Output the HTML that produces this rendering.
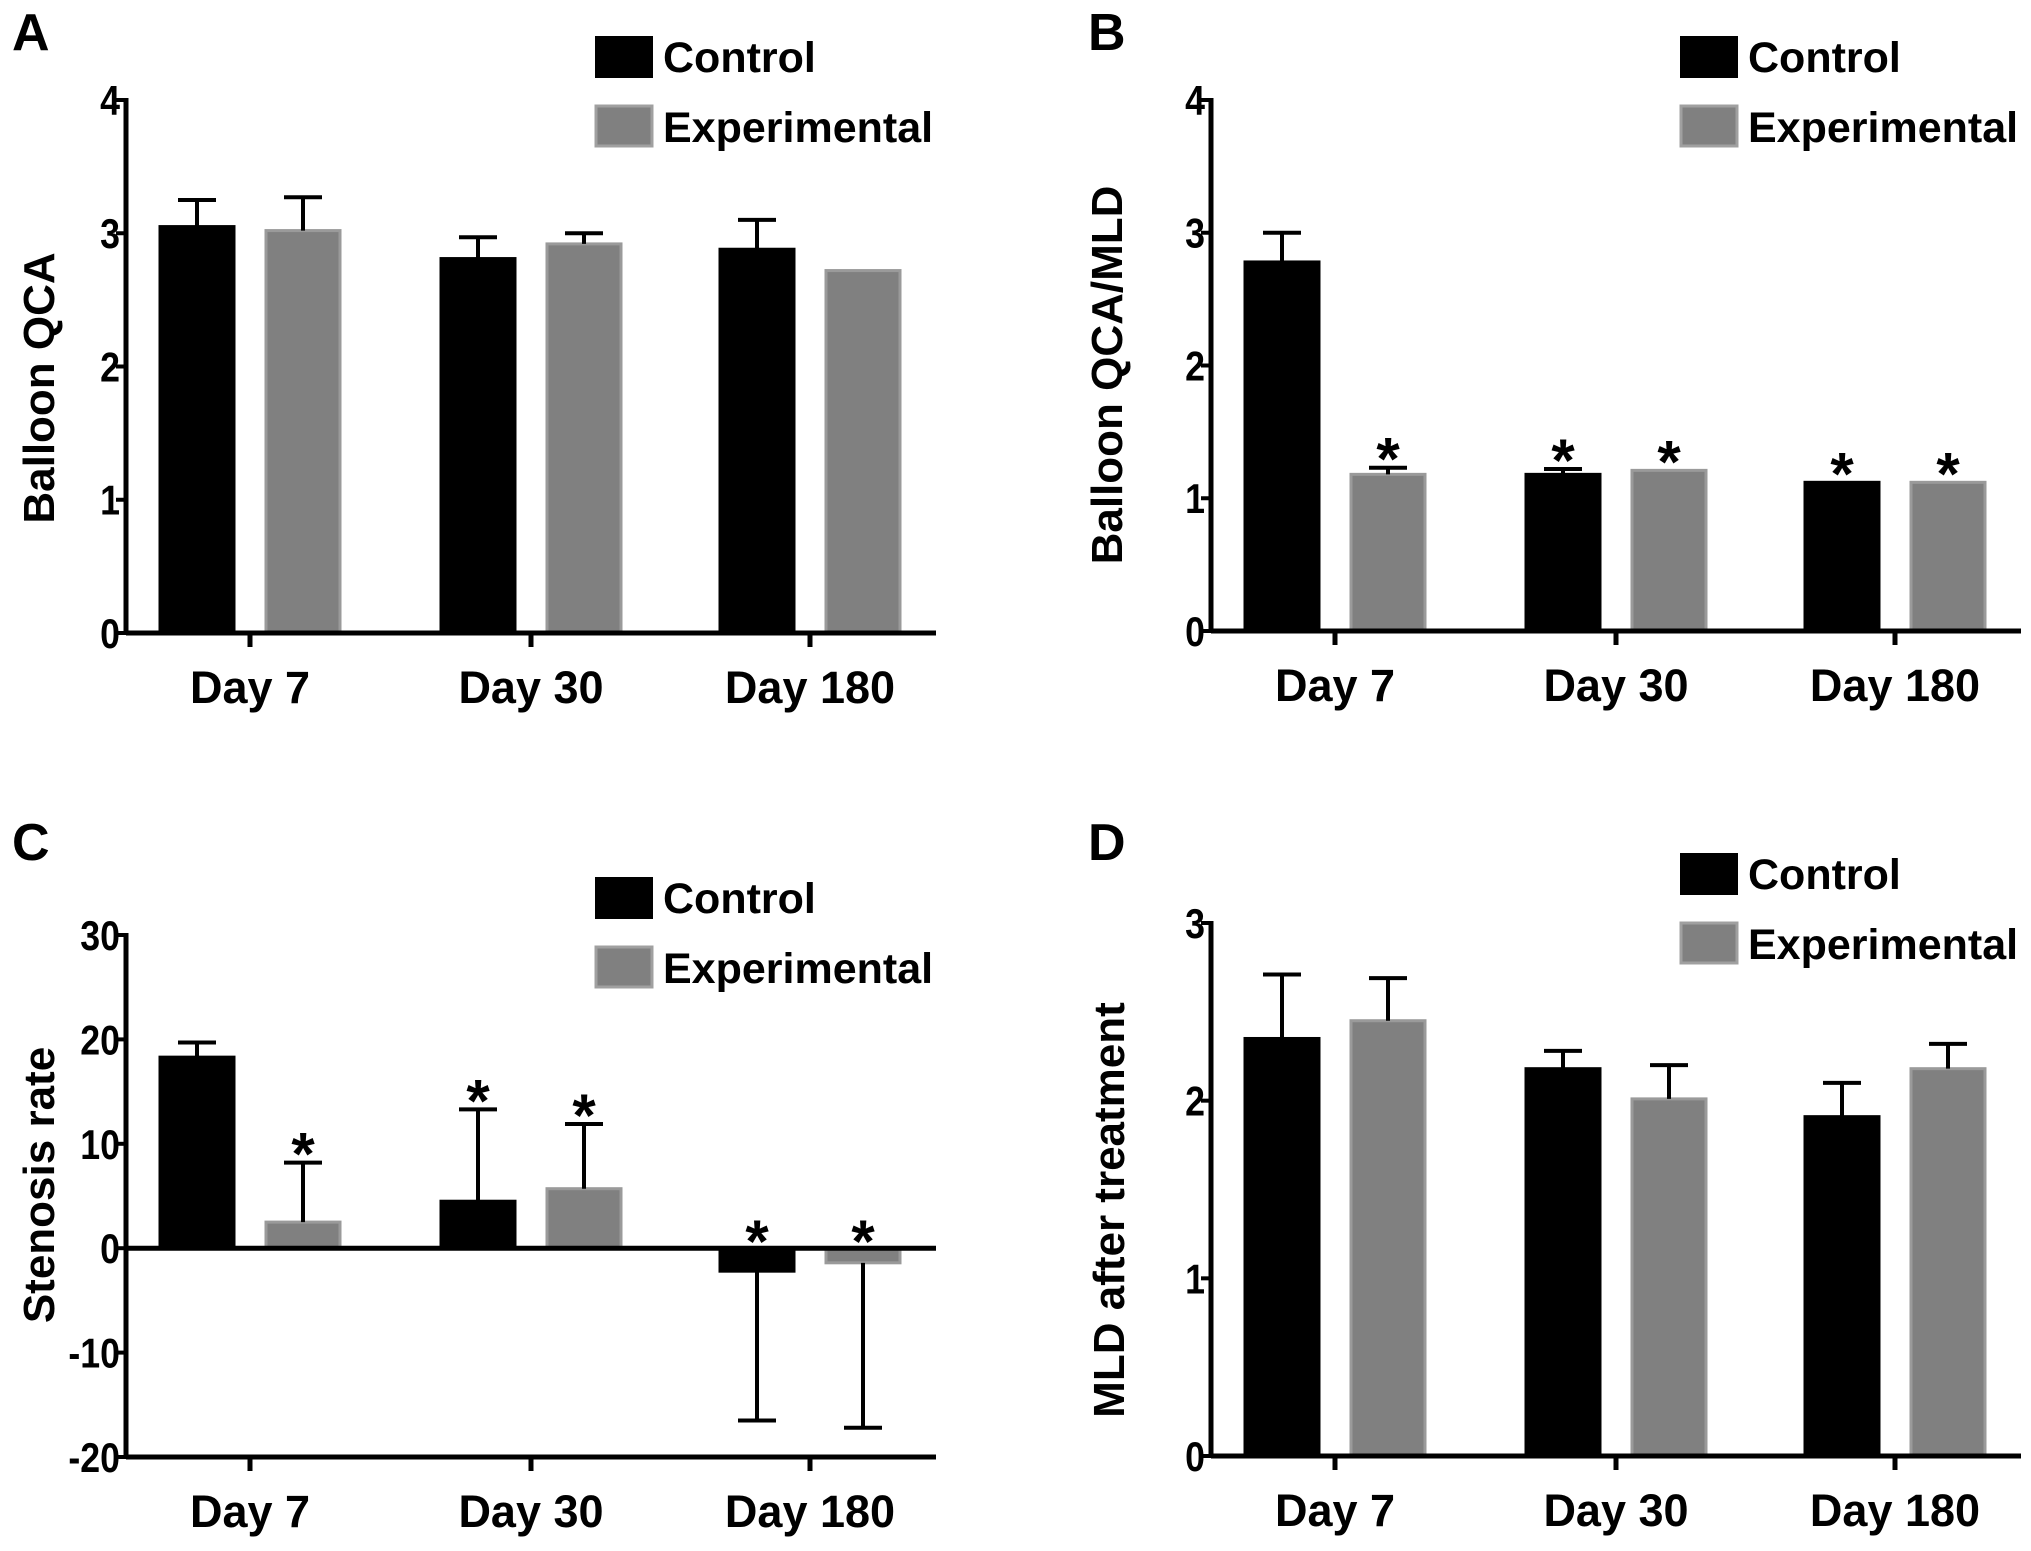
<!DOCTYPE html>
<html><head><meta charset="utf-8"><style>
html,body{margin:0;padding:0;background:#fff;}
svg{display:block;}
text{font-family:"Liberation Sans",Arial,sans-serif;font-weight:bold;fill:#000;}
</style></head><body>
<svg id="fig" width="2031" height="1551" viewBox="0 0 2031 1551"></svg>
<script>
const categories = ["Day 7","Day 30","Day 180"];
const seriesNames = ["Control","Experimental"];
// Panel A
const aControl = [3.05,2.81,2.88];
const aControlErr = [3.25,2.97,3.10];
const aExp = [3.02,2.92,2.72];
const aExpErr = [3.27,3.00,null];
const aTicks = [0,1,2,3,4];
// Panel B
const bControl = [2.78,1.18,1.12];
const bControlErr = [3.00,1.22,null];
const bExp = [1.18,1.21,1.12];
const bExpErr = [1.23,null,null];
const bStarsControl = [false,true,true];
const bStarsExp = [true,true,true];
const bTicks = [0,1,2,3,4];
// Panel C
const cControl = [18.3,4.5,-2.2];
const cControlErr = [19.7,13.3,-16.5];
const cExp = [2.5,5.7,-1.4];
const cExpErr = [8.2,11.9,-17.2];
const cStarsControl = [false,true,true];
const cStarsExp = [true,true,true];
const cTicks = [-20,-10,0,10,20,30];
// Panel D
const dControl = [2.35,2.18,1.91];
const dControlErr = [2.71,2.28,2.10];
const dExp = [2.45,2.01,2.18];
const dExpErr = [2.69,2.20,2.32];
const dTicks = [0,1,2,3];

const NS="http://www.w3.org/2000/svg";
const svg=document.getElementById('fig');
function mk(tag,attrs,parent,txt){const e=document.createElementNS(NS,tag);for(const k in attrs)e.setAttribute(k,attrs[k]);if(txt!==undefined)e.textContent=txt;(parent||svg).appendChild(e);return e;}

function panel(o){
  const g=mk('g',{});
  
  
  const y=v=>o.yBot-(v-o.min)/(o.max-o.min)*(o.yBot-o.yTop);
  const xc=i=>o.ax+[124,405,684][i];
  const L=mk('text',{x:o.lx,y:o.ly,'font-size':52},g,o.id);
  
  
  const series=[[o.c,o.ce,'#000','#000',-53,o.sc],[o.e,o.ee,'#808080','#9a9a9a',53,o.se]];
  series.forEach((s,si)=>{
    s[0].forEach((v,i)=>{
      const cx=xc(i)+s[4];
      const y0=y(0),yv=y(v);
      const r=mk('rect',{x:cx-37,y:Math.min(y0,yv),width:74,height:Math.abs(y0-yv),fill:s[2],stroke:s[3],'stroke-width':3},g);
      
      
      const ev=s[1][i];
      let topY=yv;
      if(ev!==null){
        const ye=y(ev);
        const eb=mk('path',{d:`M${cx} ${yv}L${cx} ${ye}M${cx-19} ${ye}L${cx+19} ${ye}`,stroke:'#000','stroke-width':4,fill:'none'},g);
        
        
        topY=Math.min(yv,ye);
      }
      if(s[5]&&s[5][i]){
        const base=v<0?y(0)+14:topY+12;
        const st=mk('text',{x:cx,y:base,'font-size':60,'text-anchor':'middle'},g,'*');
        
        
      }
    });
  });
  const ax=mk('line',{x1:o.ax,y1:o.yTop-2,x2:o.ax,y2:o.yBot+2,stroke:'#000','stroke-width':5},g);
  
  
  const xl=mk('line',{x1:o.ax,y1:y(0),x2:o.ax+810,y2:y(0),stroke:'#000','stroke-width':5},g);
  
  
  if(o.min<0){
    const bl=mk('line',{x1:o.ax,y1:o.yBot,x2:o.ax+810,y2:o.yBot,stroke:'#000','stroke-width':5},g);
    
    
  }
  o.ticks.forEach(t=>{
    mk('line',{x1:o.ax-10,y1:y(t),x2:o.ax,y2:y(t),stroke:'#000','stroke-width':4},g);
    const tl=mk('text',{x:o.ax-6,y:y(t)+15,'font-size':42,'text-anchor':'end',transform:`translate(${o.ax-6} 0) scale(0.85 1) translate(${-(o.ax-6)} 0)`},g,String(t));
    
    
  });
  categories.forEach((c,i)=>{
    mk('line',{x1:xc(i),y1:o.yBot,x2:xc(i),y2:o.yBot+14,stroke:'#000','stroke-width':5},g);
    const t=mk('text',{x:xc(i),y:o.yBot+70,'font-size':45,'text-anchor':'middle'},g,c);
    
    
  });
  const yt=mk('text',{x:0,y:0,'font-size':44,'text-anchor':'middle',transform:`translate(${o.tx} ${o.ty}) rotate(-90)`},g,o.title);
  
  
  const lg=mk('g',{},g);
  
  
  const r1=mk('rect',{x:o.legX,y:o.legY,width:58,height:42,fill:'#000'},lg);
  
  
  const t1=mk('text',{x:o.legX+68,y:o.legY+36,'font-size':43},lg,'Control');
  
  
  const r2=mk('rect',{x:o.legX+1,y:o.legY+70,width:56,height:40,fill:'#808080',stroke:'#a0a0a0','stroke-width':3},lg);
  
  
  const t2=mk('text',{x:o.legX+68,y:o.legY+106,'font-size':43},lg,'Experimental');
  
  
}

panel({id:'A',lx:12,ly:50,ax:126,yTop:100,yBot:633,min:0,max:4,ticks:aTicks,c:aControl,ce:aControlErr,e:aExp,ee:aExpErr,title:'Balloon QCA',tx:54,ty:388,legX:595,legY:36});
panel({id:'B',lx:1088,ly:50,ax:1211,yTop:100,yBot:631,min:0,max:4,ticks:bTicks,c:bControl,ce:bControlErr,e:bExp,ee:bExpErr,sc:bStarsControl,se:bStarsExp,title:'Balloon QCA/MLD',tx:1122,ty:375,legX:1680,legY:36});
panel({id:'C',lx:12,ly:860,ax:126,yTop:935,yBot:1457,min:-20,max:30,ticks:cTicks,c:cControl,ce:cControlErr,e:cExp,ee:cExpErr,sc:cStarsControl,se:cStarsExp,title:'Stenosis rate',tx:54,ty:1185,legX:595,legY:877});
panel({id:'D',lx:1088,ly:860,ax:1211,yTop:923,yBot:1456,min:0,max:3,ticks:dTicks,c:dControl,ce:dControlErr,e:dExp,ee:dExpErr,title:'MLD after treatment',tx:1124,ty:1210,legX:1680,legY:853});
</script>
</body></html>
